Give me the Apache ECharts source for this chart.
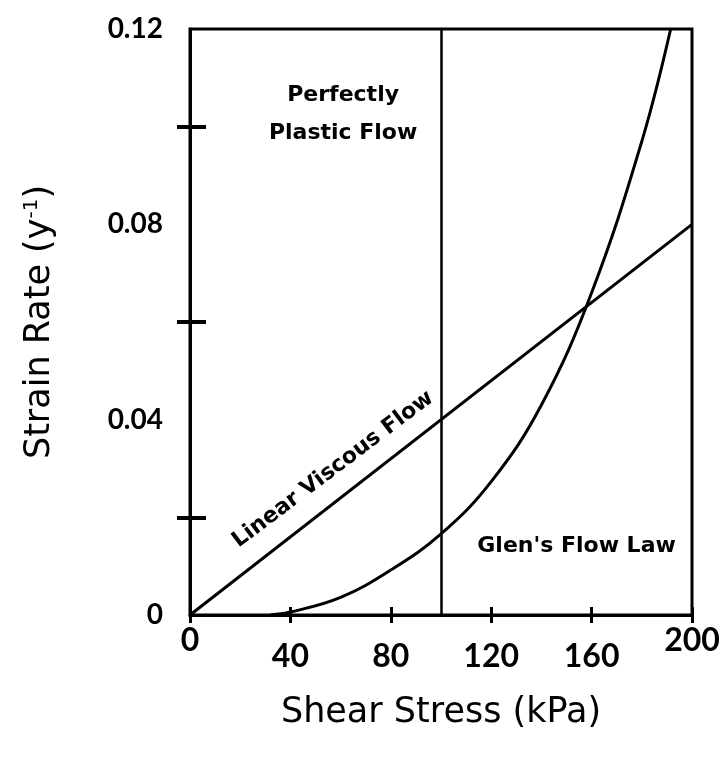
<html>
<head>
    <meta charset='utf-8'>
    <script src='https://cdn.jsdelivr.net/npm/echarts@6/dist/echarts.min.js'></script>
    <style>
        html, body, #main {
            width: 100%;
            height: 100%;
            margin: 0;
            background: #fff;
        }
    </style>
</head>
<body>
<div id='main'></div>
<script>
    // shear stress (kPa) vs strain rate (1/y)
    var linearStress = [0, 200];
    var linearRate = [0, 0.08];

    var glenStress = [32, 40, 60, 80, 100, 120, 140, 160, 180, 191.5];
    var glenRate = [0, 0.0006, 0.0036, 0.0092, 0.0166, 0.0273, 0.043, 0.066, 0.097, 0.12];

    var plasticLimit = 100;

    var yLabelValues = [0, 0.04, 0.08, 0.12];
    var yTickValues = [0.02, 0.06, 0.10];

    // annotation anchors in data units
    var notes = [
        { text: 'Perfectly\nPlastic Flow', at: [61, 0.1026], rotate: 0 },
        { text: 'Linear Viscous Flow', at: [57, 0.0298], rotate: 37 },
        { text: "Glen's Flow Law", at: [154, 0.0141], rotate: 0 }
    ];

    function pairs(xs, ys) {
        var out = [];
        for (var i = 0; i < xs.length; i++) out.push([xs[i], ys[i]]);
        return out;
    }

    var numFont = 'Lato';
    var textFont = 'DejaVu Sans';
    var black = '#000';

    var myChart = echarts.init(document.getElementById('main'));
    myChart.setOption({
        backgroundColor: '#fff',
        animation: false,
        grid: {
            left: 190, right: 35, top: 29, bottom: 151,
            show: true,
            borderColor: black,
            borderWidth: 3
        },
        xAxis: [{
            type: 'value',
            min: 0, max: 200, interval: 40,
            name: 'Shear Stress (kPa)',
            nameLocation: 'middle',
            nameGap: 80,
            nameTextStyle: { fontFamily: textFont, fontSize: 35, color: black },
            axisLine: { lineStyle: { color: black, width: 3 } },
            axisTick: { show: true, length: 8, lineStyle: { color: black, width: 3 } },
            axisLabel: {
                margin: 10,
                formatter: function (v) {
                    return (v === 0 || v === 200) ? '{hi|' + v + '}' : '{lo|' + v + '}';
                },
                rich: {
                    hi: { fontFamily: numFont, fontSize: 32, fontWeight: 'bold', color: black },
                    lo: { fontFamily: numFont, fontSize: 32, fontWeight: 'bold', color: black, padding: [16, 0, 0, 0] }
                }
            },
            splitLine: { show: false }
        }, {
            type: 'value',
            min: 0, max: 200, interval: 40,
            position: 'bottom',
            axisLine: { show: false },
            axisTick: { show: true, inside: true, length: 8, lineStyle: { color: black, width: 3 } },
            axisLabel: { show: false },
            splitLine: { show: false }
        }],
        yAxis: [{
            type: 'value',
            min: 0, max: 0.12,
            name: '{n|Strain Rate (y}{s|-1}{n|)}',
            nameLocation: 'middle',
            nameGap: 132,
            nameTextStyle: {
                rich: {
                    n: { fontFamily: textFont, fontSize: 35, color: black },
                    s: { fontFamily: textFont, fontSize: 20, color: black, verticalAlign: 'top', padding: [0, 0, 16, 0] }
                }
            },
            axisLine: { lineStyle: { color: black, width: 3 } },
            axisTick: { show: true, customValues: yTickValues, length: 13, lineStyle: { color: black, width: 4 } },
            axisLabel: {
                customValues: yLabelValues,
                margin: 27,
                fontFamily: numFont, fontSize: 28, fontWeight: 'bold', color: black,
                formatter: function (v) { return v === 0 ? '0' : v.toFixed(2); }
            },
            splitLine: { show: false }
        }, {
            type: 'value',
            min: 0, max: 0.12,
            position: 'left',
            axisLine: { show: false },
            axisTick: { show: true, inside: true, customValues: yTickValues, length: 16, lineStyle: { color: black, width: 4 } },
            axisLabel: { show: false },
            splitLine: { show: false }
        }],
        series: [{
            name: 'Linear Viscous Flow',
            type: 'line',
            data: pairs(linearStress, linearRate),
            showSymbol: false,
            lineStyle: { color: black, width: 3 },
            markLine: {
                silent: true,
                symbol: 'none',
                label: { show: false },
                lineStyle: { color: black, width: 2.5, type: 'solid' },
                data: [{ xAxis: plasticLimit }]
            },
            markPoint: {
                silent: true,
                symbol: 'circle',
                symbolSize: 0,
                data: notes.map(function (n) {
                    return {
                        coord: n.at,
                        label: {
                            show: true,
                            formatter: n.text,
                            position: 'inside',
                            rotate: n.rotate,
                            fontFamily: textFont,
                            fontSize: 22,
                            fontWeight: 'bold',
                            lineHeight: 38,
                            color: black,
                            align: 'center',
                            verticalAlign: 'middle'
                        }
                    };
                })
            }
        }, {
            name: "Glen's Flow Law",
            type: 'line',
            data: pairs(glenStress, glenRate),
            smooth: 0.4,
            showSymbol: false,
            clip: true,
            lineStyle: { color: black, width: 3 }
        }]
    });
</script>
</body>
</html>
